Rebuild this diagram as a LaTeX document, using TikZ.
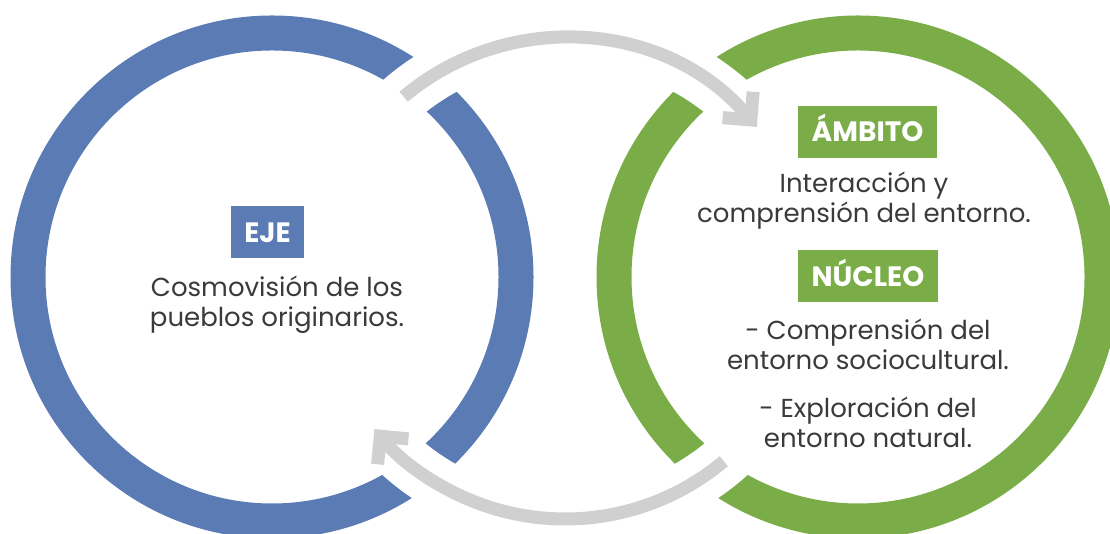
\documentclass[tikz,border=0pt]{standalone}
\usepackage{fontspec}
\setmainfont{Poppins}
\usetikzlibrary{arrows.meta}
\definecolor{ejeblue}{HTML}{5B7BB5}
\definecolor{ambgreen}{HTML}{7AAD48}
\definecolor{flowgrey}{HTML}{D0D0D0}
\definecolor{textgrey}{HTML}{3A3A3A}

\begin{document}
\begin{tikzpicture}[x=1pt,y=1pt,
    ring/.style={line width=35pt},
    gapband/.style={draw=white,line width=52pt},
    flow/.style={draw=flowgrey,line width=13pt,-{Straight Barb[length=20pt,width=40pt]}},
    tag/.style={text=white,font=\fontsize{28}{28}\selectfont\bfseries,minimum height=52pt,inner xsep=13.5pt,text height=19.5pt,text depth=0pt},
    body/.style={text=textgrey,font=\fontsize{26}{30.5}\selectfont,align=center,inner sep=0pt}]
    \useasboundingbox (0,0) rectangle (1110,534);
    \coordinate (ejec) at (272,257);
    \coordinate (ambc) at (858,257);
    \draw[ring,ejeblue] (ejec) circle[radius=244pt];
    \draw[ring,ambgreen] (ambc) circle[radius=244pt];
    \coordinate (topband) at (390.6,425.6);
    \coordinate (topstart) at (403.7,437.3);
    \coordinate (botband) at (736.6,84.3);
    \coordinate (botstart) at (723.8,72.8);
    \draw[gapband] (topband) arc[start angle=134,end angle=40.2,radius=251pt];
    \draw[gapband] (botband) arc[start angle=-46,end angle=-140.5,radius=247pt];
    \draw[flow] (topstart) arc[start angle=130,end angle=40.2,radius=251pt];
    \draw[flow] (botstart) arc[start angle=-50,end angle=-140.5,radius=247pt];
    \node (eje) at (267.5,301.5) [tag,fill=ejeblue] {EJE};
    \node (ejetext) at (277,207) [body,anchor=base] {Cosmovisión de los\\pueblos originarios.};
    \node (ambito) at (867.5,402) [tag,fill=ambgreen] {ÁMBITO};
    \node (ambitotext) at (864,311) [body,anchor=base] {Interacción y\\comprensión del entorno.};
    \node (nucleo) at (868,257.5) [tag,fill=ambgreen] {NÚCLEO};
    \node (nucleoa) at (868,164) [body,anchor=base] {- Comprensión del\\entorno sociocultural.};
    \node (nucleob) at (868,86) [body,anchor=base] {- Exploración del\\entorno natural.};
\end{tikzpicture}
\end{document}
